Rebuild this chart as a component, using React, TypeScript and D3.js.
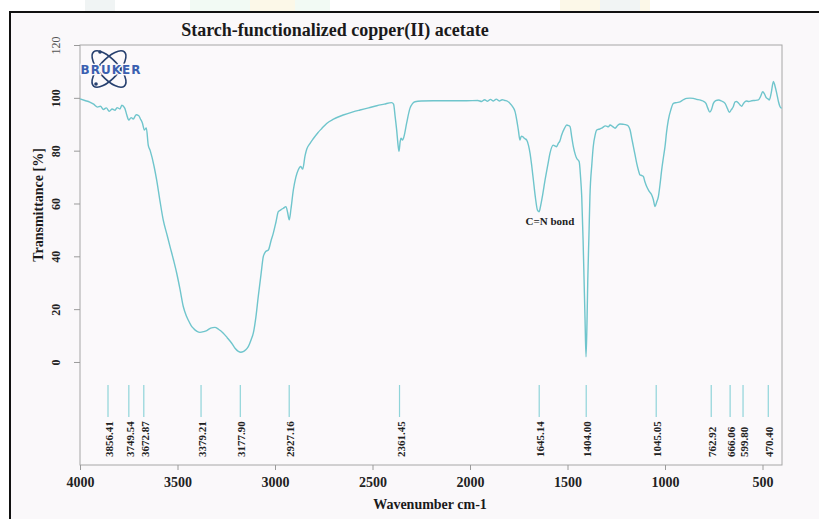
import React, { useEffect, useRef } from 'react';
import * as d3 from 'd3';

// IR spectrum (wavenumber cm-1 -> transmittance %)
const wavenumbers = [
  4000, 3975, 3950, 3930, 3910, 3895, 3880, 3865, 3850, 3835, 3820, 3810, 3795, 3785, 3770, 3760,
  3750, 3738, 3727, 3712, 3700, 3690, 3680, 3670, 3660, 3650, 3640, 3620, 3607, 3590, 3573, 3555,
  3538, 3520, 3504, 3487, 3470, 3455, 3445, 3430, 3419, 3400, 3385, 3365, 3350, 3330, 3308, 3290,
  3265, 3245, 3222, 3205, 3188, 3175, 3163, 3150, 3137, 3122, 3111, 3098, 3086, 3072, 3060, 3048,
  3034, 3020, 3009, 2995, 2983, 2970, 2957, 2944, 2935, 2927, 2918, 2906, 2893, 2881, 2868, 2858,
  2846, 2837, 2820, 2804, 2780, 2760, 2735, 2700, 2650, 2600, 2564, 2520, 2478, 2440, 2402, 2392,
  2384, 2376, 2368, 2364, 2358, 2354, 2346, 2338, 2325, 2308, 2295, 2282, 2250, 2188, 2100, 2017,
  1960, 1940, 1925, 1910, 1895, 1880, 1865, 1850, 1835, 1821, 1808, 1795, 1780, 1769, 1760, 1752,
  1744, 1737, 1730, 1720, 1709, 1700, 1692, 1683, 1675, 1665, 1654, 1645, 1641, 1628, 1615, 1600,
  1590, 1573, 1565, 1556, 1547, 1540, 1530, 1515, 1504, 1495, 1487, 1478, 1470, 1460, 1453, 1440,
  1433, 1427, 1420, 1415, 1410, 1405, 1400, 1396, 1390, 1385, 1375, 1368, 1358, 1350, 1335, 1325,
  1305, 1290, 1282, 1268, 1256, 1243, 1231, 1215, 1196, 1188, 1179, 1170, 1162, 1153, 1145, 1136,
  1128, 1120, 1111, 1103, 1094, 1080, 1068, 1060, 1051, 1043, 1034, 1025, 1017, 1008, 1000, 992,
  983, 970, 957, 940, 923, 905, 889, 872, 855, 838, 821, 805, 790, 780, 770, 762,
  752, 740, 725, 710, 692, 680, 670, 660, 650, 641, 633, 622, 615, 607, 598, 590,
  582, 570, 555, 540, 521, 510, 499, 490, 482, 472, 465, 455, 444, 436, 427, 418,
  410, 402,
];

const transmittance = [
  99.6, 99.0, 98.4, 97.6, 96.5, 96.8, 95.6, 96.2, 94.9, 95.8, 95.3, 96.3, 95.8, 97.2, 96.0, 93.5,
  91.6, 92.5, 92.0, 93.6, 93.3, 92.0, 90.5, 87.8, 88.6, 82.1, 80.0, 74.0, 68.9, 61.0, 53.7, 48.5,
  43.6, 38.5, 33.6, 27.5, 20.9, 17.5, 15.9, 13.8, 12.8, 11.6, 11.2, 11.5, 11.9, 12.8, 13.1, 12.4,
  10.9, 9.2, 7.1, 5.2, 4.0, 3.7, 3.9, 4.6, 5.8, 8.5, 11.0, 17.0, 24.7, 33.0, 39.9, 41.8,
  42.4, 46.0, 48.7, 53.0, 56.9, 57.6, 58.2, 58.8, 56.5, 53.8, 58.0, 65.1, 70.0, 72.7, 74.0, 73.0,
  78.0, 80.6, 82.8, 84.5, 86.8, 88.4, 90.3, 91.9, 93.5, 94.7, 95.4, 96.2, 97.0, 97.6, 98.2, 97.6,
  93.0, 87.8, 81.5, 79.8, 83.5, 84.7, 84.0, 85.5, 90.4, 96.0, 97.8, 98.5, 98.8, 98.9, 98.9, 98.9,
  99.0, 98.6, 99.3, 98.7, 99.4, 98.8, 99.5, 98.8, 99.3, 99.0, 98.7, 97.9, 96.5, 94.8, 91.5, 87.8,
  84.0, 85.5, 85.3, 84.6, 84.0, 82.0, 79.0, 74.0, 68.9, 62.5, 57.5, 56.9, 58.0, 63.0, 68.9, 75.0,
  79.0, 82.1, 81.8, 81.5, 82.8, 83.5, 85.9, 88.5, 89.7, 89.5, 89.1, 85.0, 81.5, 78.5, 77.1, 75.8,
  70.0, 62.6, 46.0, 31.0, 16.0, 2.0, 15.0, 31.0, 48.0, 62.6, 75.0, 81.5, 86.0, 87.8, 88.2, 88.5,
  89.4, 89.0, 89.7, 89.1, 88.5, 89.5, 90.1, 90.0, 89.7, 89.3, 87.8, 84.5, 81.5, 78.2, 75.2, 72.5,
  70.8, 70.6, 70.2, 68.2, 66.4, 64.5, 63.2, 61.5, 58.8, 60.5, 62.6, 67.5, 72.7, 77.5, 81.5, 87.0,
  91.6, 95.5, 97.9, 98.2, 98.5, 99.3, 99.8, 99.9, 99.8, 99.4, 99.2, 98.8, 97.9, 96.0, 94.6, 95.5,
  97.9, 98.9, 99.2, 98.8, 97.9, 96.0, 94.5, 95.5, 96.6, 98.5, 98.6, 97.9, 97.3, 96.8, 97.8, 98.5,
  98.8, 98.6, 98.9, 99.0, 99.2, 100.5, 102.3, 101.5, 100.2, 99.6, 99.2, 102.0, 106.2, 104.5, 101.7, 98.5,
  96.6, 96.0,
];

const peakPositions = [3856.41, 3749.54, 3672.87, 3379.21, 3177.9, 2927.16, 2361.45, 1645.14, 1404.0, 1045.05, 762.92, 666.06, 599.8, 470.4];
const peakLabels = ['3856.41', '3749.54', '3672.87', '3379.21', '3177.90', '2927.16', '2361.45', '1645.14', '1404.00', '1045.05', '762.92', '666.06', '599.80', '470.40'];

const xTicks = [4000, 3500, 3000, 2500, 2000, 1500, 1000, 500];
const yTicks = [0, 20, 40, 60, 80, 100, 120];

const serif = '"Liberation Serif", "Times New Roman", serif';
const curveColor = '#6fc5cc';

const App = () => {
  const svg = useRef(null);
  const width = 819;
  const height = 519;
  const plot = { left: 80, right: 782, top: 45, bottom: 465 };

  const renderChart = (svg: any) => {
    const x = d3.scaleLinear().domain([4000, 400]).range([plot.left, plot.right]);
    const y = d3.scaleLinear().domain([-39, 120]).range([plot.bottom, plot.top]);

    const xAxis = d3.axisBottom(x).tickValues(xTicks).tickSize(5).tickFormat(d3.format('d'));
    const yAxis = d3.axisLeft(y).tickValues(yTicks).tickSize(6).tickFormat(d3.format('d'));

    const gx = svg.select('.x-axis')
      .attr('transform', `translate(0, ${plot.bottom})`)
      .call(xAxis)
      .attr('font-family', serif)
      .attr('font-size', 14)
      .attr('font-weight', 'bold');
    gx.select('.domain').remove();
    gx.selectAll('.tick line').attr('stroke', '#9a9a9a');
    gx.selectAll('.tick text').attr('y', 22).attr('dy', 0).attr('fill', '#222');

    const gy = svg.select('.y-axis')
      .attr('transform', `translate(${plot.left}, 0)`)
      .call(yAxis)
      .attr('font-family', serif)
      .attr('font-size', 12)
      .attr('font-weight', 'bold');
    gy.select('.domain').remove();
    gy.selectAll('.tick line').attr('stroke', '#9a9a9a');
    gy.selectAll('.tick text')
      .attr('transform', 'rotate(-90)')
      .attr('x', 0)
      .attr('y', -20)
      .attr('dy', 0)
      .attr('text-anchor', 'middle')
      .attr('font-weight', (d: number) => (d === 120 ? 'normal' : 'bold'))
      .attr('fill', (d: number) => (d === 120 ? '#555' : '#222'));

    const area = svg.select('.plot-area');
    area.selectAll('*').remove();

    const line = d3
      .line<number>()
      .x((d, i) => x(wavenumbers[i]))
      .y((d) => y(d))
      .curve(d3.curveMonotoneX);

    area.append('path')
      .attr('d', line(transmittance))
      .attr('fill', 'none')
      .attr('stroke', curveColor)
      .attr('stroke-width', 1.4);

    area.selectAll('.peak')
      .data(peakPositions)
      .enter()
      .append('line')
      .attr('class', 'peak')
      .attr('x1', (d: number) => x(d))
      .attr('x2', (d: number) => x(d))
      .attr('y1', 385)
      .attr('y2', 417)
      .attr('stroke', '#8fd4d9')
      .attr('stroke-width', 1.2);

    area.selectAll('.peak-label')
      .data(peakPositions)
      .enter()
      .append('text')
      .attr('class', 'peak-label')
      .attr('transform', (d: number) => `translate(${x(d)}, 457) rotate(-90)`)
      .attr('y', 5)
      .attr('font-family', serif)
      .attr('font-size', 11)
      .attr('font-weight', 'bold')
      .attr('fill', '#222')
      .text((d: number, i: number) => peakLabels[i]);

    area.append('text')
      .attr('x', x(1590))
      .attr('y', y(52))
      .attr('text-anchor', 'middle')
      .attr('font-family', serif)
      .attr('font-size', 11)
      .attr('font-weight', 'bold')
      .attr('fill', '#222')
      .text('C=N bond');
  };

  useEffect(() => {
    renderChart(d3.select(svg.current));
  }, []);

  return (
    <svg
      ref={svg}
      width={width}
      height={height}
      style={{ position: 'absolute', left: 0, top: 0, display: 'block' }}
    >
      <rect x={0} y={0} width={width} height={height} fill="#ffffff" />
      {/* faint watermark strip above the page border */}
      <g opacity={0.55}>
        <rect x={85} y={0} width={30} height={12} fill="#e4ecec" />
        <rect x={190} y={0} width={140} height={12} fill="#e8f6ec" />
        <rect x={250} y={0} width={45} height={12} fill="#fbf4d6" />
        <rect x={560} y={0} width={90} height={12} fill="#fbf4d6" />
        <rect x={600} y={0} width={40} height={12} fill="#e6ecec" />
      </g>
      <rect x={11} y={13} width={width - 11} height={height - 13} fill="#faf8fa" />
      <path d={`M10,${height} V12 H${width}`} fill="none" stroke="#111" strokeWidth={2} />

      <rect
        x={plot.left}
        y={plot.top}
        width={plot.right - plot.left}
        height={plot.bottom - plot.top}
        fill="#fbf9fb"
        stroke="#a6a6a6"
        strokeWidth={1}
      />

      {/* BRUKER logo */}
      <g transform="translate(109, 69)">
        <ellipse rx={23} ry={9.5} transform="rotate(48)" fill="none" stroke="#27406f" strokeWidth={1.6} />
        <ellipse rx={23} ry={9.5} transform="rotate(-48)" fill="none" stroke="#27406f" strokeWidth={1.6} />
        <circle cx={-9} cy={-17} r={1.8} fill="#27406f" />
        <circle cx={-13} cy={15} r={1.8} fill="#27406f" />
        <text
          x={2}
          y={5}
          textAnchor="middle"
          fontFamily='"DejaVu Sans", sans-serif'
          fontWeight="bold"
          fontSize={12}
          letterSpacing={1}
          fill="#3a5fb0"
          stroke="#fbf9fb"
          strokeWidth={2.5}
          paintOrder="stroke"
        >
          BRUKER
        </text>
      </g>

      <g className="plot-area" />
      <g className="x-axis" />
      <g className="y-axis" />

      <text x={335} y={36} textAnchor="middle" fontFamily={serif} fontWeight="bold" fontSize={18} fill="#1a1a1a">
        Starch-functionalized copper(II) acetate
      </text>
      <text
        transform="translate(43, 205) rotate(-90)"
        textAnchor="middle"
        fontFamily={serif}
        fontWeight="bold"
        fontSize={14}
        fill="#1a1a1a"
      >
        Transmittance [%]
      </text>
      <text x={430} y={509} textAnchor="middle" fontFamily={serif} fontWeight="bold" fontSize={14} fill="#1a1a1a">
        Wavenumber cm-1
      </text>
    </svg>
  );
};

export default App;
